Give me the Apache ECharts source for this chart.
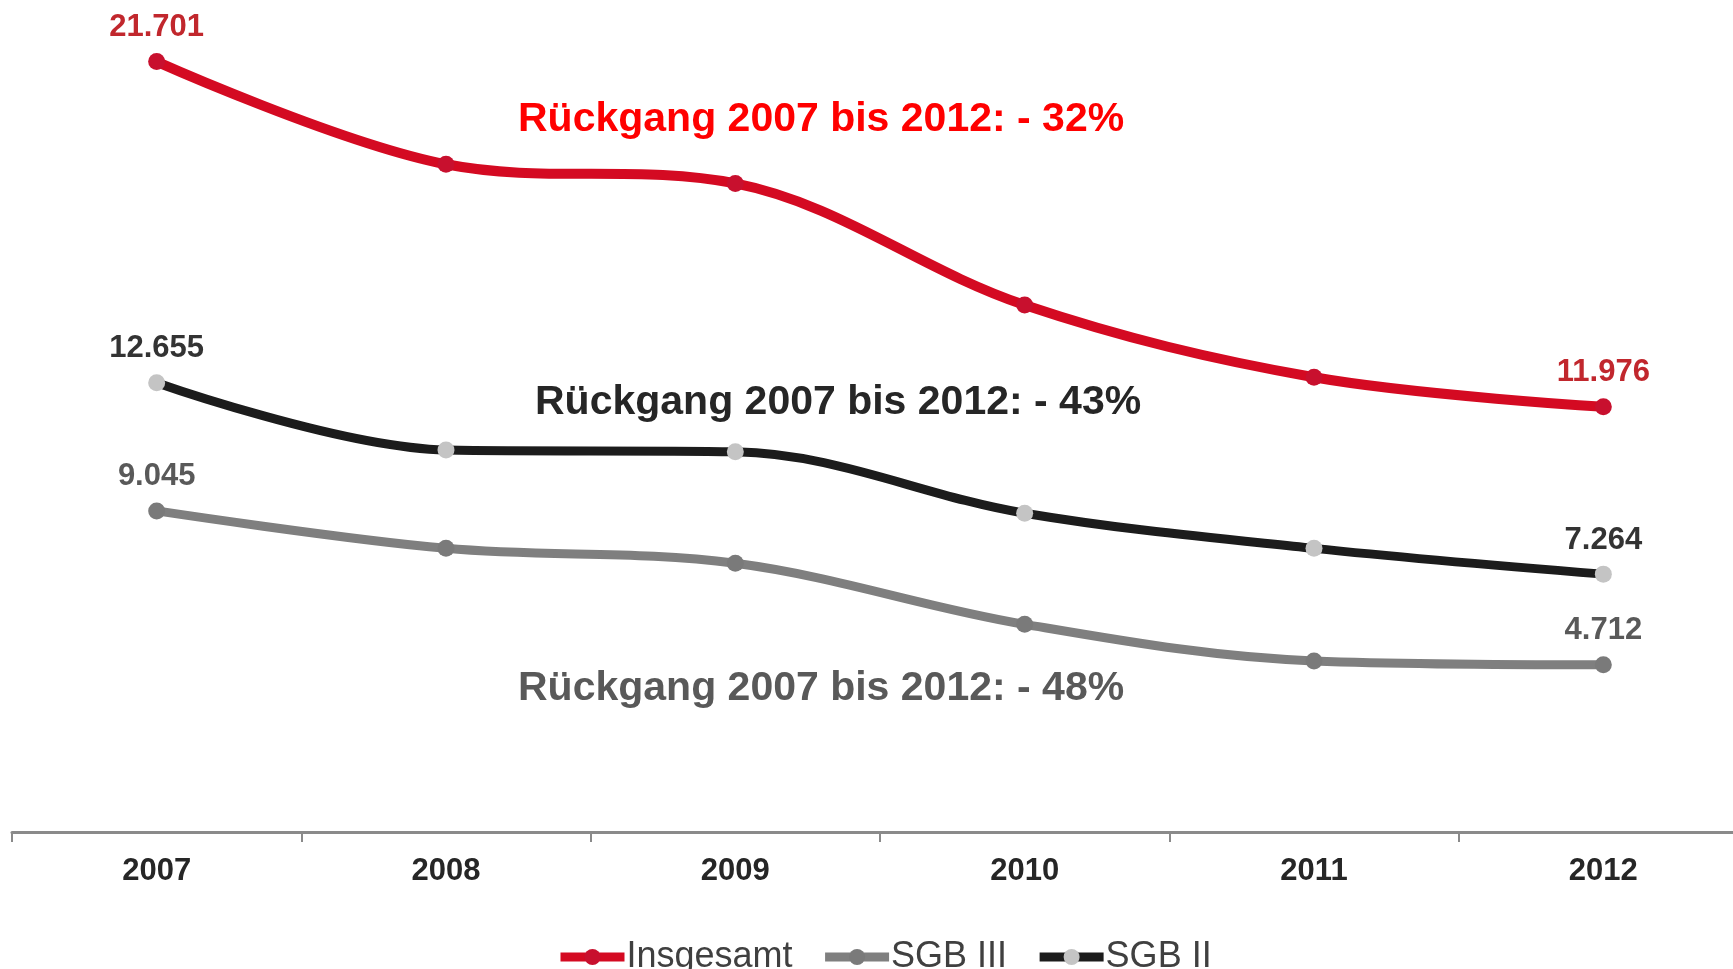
<!DOCTYPE html>
<html>
<head>
<meta charset="utf-8">
<title>Rückgang 2007 bis 2012</title>
<script src="https://cdn.jsdelivr.net/npm/echarts@6/dist/echarts.min.js"></script>
<style>
  html, body { margin: 0; padding: 0; background: #ffffff; }
  #chart { width: 1733px; height: 969px; }
</style>
</head>
<body>
<div id="chart"></div>
<script>
// Years on the category axis
const years = ['2007', '2008', '2009', '2010', '2011', '2012'];

// Series values
const insgesamt = [21701, 18810, 18270, 14845, 12810, 11976];
const sgb3 = [9045, 7990, 7570, 5850, 4820, 4712];
const sgb2 = [12655, 10760, 10710, 8980, 7990, 7264];

// Series names and annotation texts
const seriesNames = ['Insgesamt', 'SGB III', 'SGB II'];
const notes = [
  'Rückgang 2007 bis 2012: - 32%',
  'Rückgang 2007 bis 2012: - 43%',
  'Rückgang 2007 bis 2012: - 48%'
];

const sans = "'Liberation Sans', Arial, sans-serif";

// German thousands separator: 21701 -> "21.701"
function fmt(v) {
  return String(Math.round(v)).replace(/\B(?=(\d{3})+(?!\d))/g, '.');
}

// Show value labels only at the first and last year
function withEndLabels(values, color) {
  const last = values.length - 1;
  return values.map((v, i) => ({
    value: v,
    label: {
      show: i === 0 || i === last,
      position: 'top',
      distance: 10,
      formatter: p => fmt(p.value),
      color: color,
      fontFamily: sans,
      fontWeight: 'bold',
      fontSize: 31,
      lineHeight: 31
    }
  }));
}

function lineSeries(name, values, lineColor, markerColor, labelColor, width) {
  return {
    name: name,
    type: 'line',
    smooth: 0.35,
    symbol: 'circle',
    symbolSize: 17,
    data: withEndLabels(values, labelColor),
    lineStyle: { color: lineColor, width: width },
    itemStyle: { color: markerColor },
    emphasis: { disabled: true },
    z: 3
  };
}

const chart = echarts.init(document.getElementById('chart'), null, { renderer: 'canvas' });

const noteFont = "bold 41px 'Liberation Sans', Arial, sans-serif";

chart.setOption({
  animation: false,
  backgroundColor: '#ffffff',
  // the axis runs a little past the right edge of the canvas
  grid: { left: 12, width: 1736, top: 51, bottom: 137, containLabel: false, outerBoundsMode: 'none' },
  xAxis: {
    type: 'category',
    data: years,
    boundaryGap: true,
    axisLine: { show: true, lineStyle: { color: '#8a8a8a', width: 3 } },
    axisTick: { show: true, length: 10, lineStyle: { color: '#8a8a8a', width: 2 } },
    axisLabel: {
      color: '#262626',
      fontFamily: sans,
      fontWeight: 'bold',
      fontSize: 31,
      lineHeight: 31,
      margin: 24
    },
    splitLine: { show: false }
  },
  yAxis: {
    type: 'value',
    min: 0,
    max: 22000,
    show: false
  },
  legend: {
    data: seriesNames,
    left: 551,
    top: 932,
    itemWidth: 64,
    itemHeight: 20,
    itemGap: 28,
    lineStyle: { width: 9 },
    textStyle: {
      color: '#404040',
      fontFamily: sans,
      fontSize: 36,
      lineHeight: 40,
      padding: [0, 0, 0, -3]
    }
  },
  graphic: [
    {
      type: 'text', left: 518, top: 99,
      style: { text: notes[0], fill: '#ff0000', font: noteFont }
    },
    {
      type: 'text', left: 535, top: 382,
      style: { text: notes[1], fill: '#262626', font: noteFont }
    },
    {
      type: 'text', left: 518, top: 668,
      style: { text: notes[2], fill: '#595959', font: noteFont }
    }
  ],
  series: [
    lineSeries(seriesNames[0], insgesamt, '#d40a22', '#c8102e', '#c1272d', 10),
    lineSeries(seriesNames[1], sgb3, '#7f7f7f', '#7a7a7a', '#595959', 9),
    lineSeries(seriesNames[2], sgb2, '#1c1c1c', '#c4c4c4', '#333333', 9)
  ]
});
</script>
</body>
</html>
